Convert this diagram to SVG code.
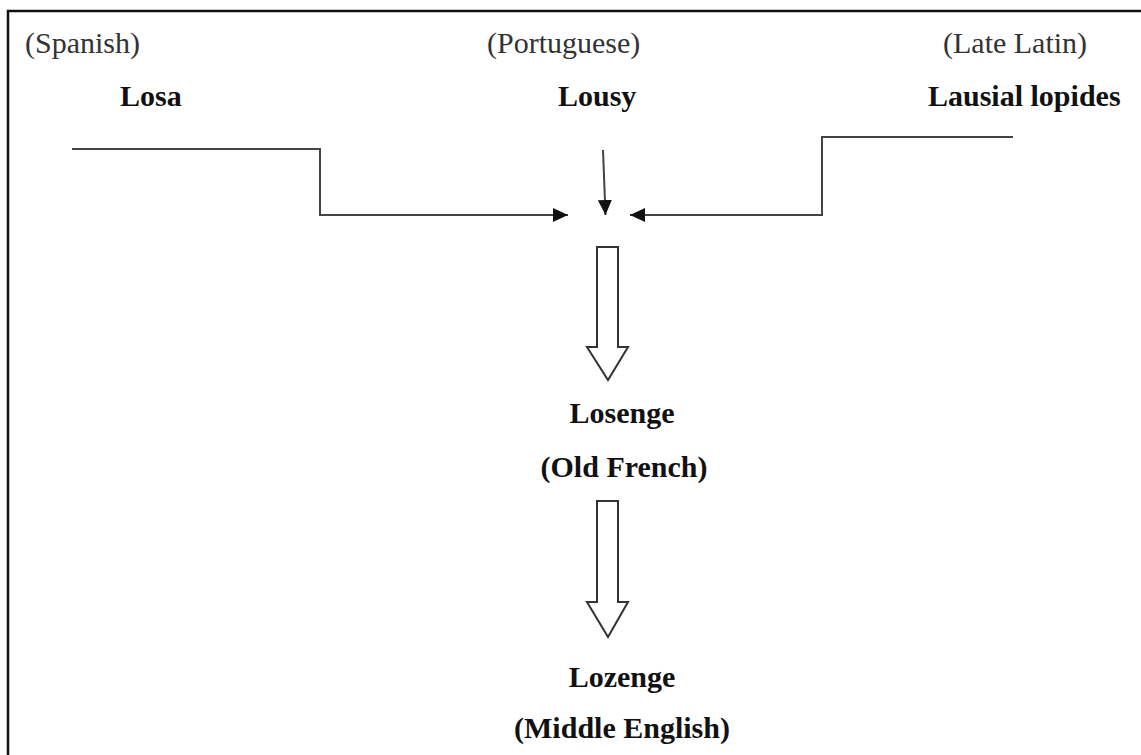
<svg xmlns="http://www.w3.org/2000/svg" width="1141" height="755" viewBox="0 0 1141 755">
<style>
.lang{font-family:"Liberation Serif","Times New Roman",serif;font-size:30px;fill:#333}
.word{font-family:"Liberation Serif","Times New Roman",serif;font-size:30px;font-weight:bold;fill:#111}
.conn{fill:none;stroke:#444;stroke-width:2}
.hollow{fill:#fff;stroke:#333;stroke-width:2;stroke-linejoin:miter}
</style>
<defs>
<marker id="ah" markerUnits="userSpaceOnUse" markerWidth="16" markerHeight="14" refX="15" refY="7" orient="auto">
<path d="M0,0 L15,7 L0,14 Z" fill="#111"/>
</marker>
</defs>
<rect width="1141" height="755" fill="#fff"/>
<path d="M8,755 V11 H1141" fill="none" stroke="#111" stroke-width="2.5"/>
<g id="spanish">
<text class="lang" x="25" y="53">(Spanish)</text>
<text class="word" x="120" y="106">Losa</text>
</g>
<g id="portuguese">
<text class="lang" x="487" y="53">(Portuguese)</text>
<text class="word" x="558" y="106">Lousy</text>
</g>
<g id="latelatin">
<text class="lang" x="943" y="53">(Late Latin)</text>
<text class="word" x="928" y="106">Lausial lopides</text>
</g>
<g id="oldfrench">
<text class="word" x="622" y="423" text-anchor="middle">Losenge</text>
<text class="word" x="624" y="477" text-anchor="middle">(Old French)</text>
</g>
<g id="middleenglish">
<text class="word" x="622" y="687" text-anchor="middle">Lozenge</text>
<text class="word" x="622" y="738" text-anchor="middle">(Middle English)</text>
</g>
<g id="connectors">
<path class="conn" d="M72,149 H320 V215 H568" marker-end="url(#ah)"/>
<path class="conn" d="M603,150 L605.5,215" marker-end="url(#ah)"/>
<path class="conn" d="M1013,137 H822 V215 H630" marker-end="url(#ah)"/>
<polygon class="hollow" points="597,247 618,247 618,347 628,347 608,380 587,347 597,347"/>
<polygon class="hollow" points="597,501 618,501 618,602 628,602 608,637 587,602 597,602"/>
</g>
</svg>
